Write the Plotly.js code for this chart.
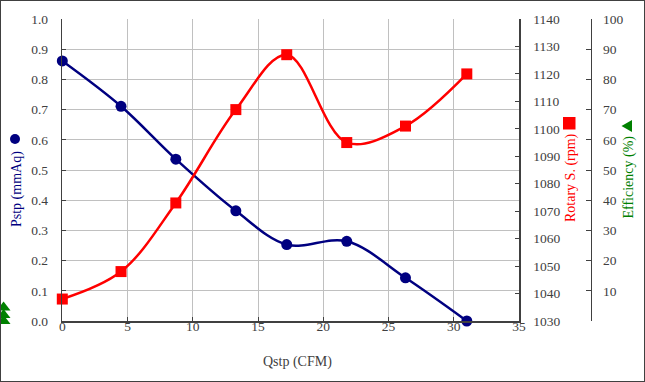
<!DOCTYPE html>
<html>
<head>
<meta charset="utf-8">
<script src="https://cdn.plot.ly/plotly-3.0.1.min.js"></script>
<style>
  html, body { margin: 0; padding: 0; background: #fff; }
  #chart { width: 645px; height: 382px; box-sizing: border-box; border: 1px solid #404040; }
</style>
</head>
<body>
<div id="chart"></div>
<script>
// ---- data ----
const qstp = [0, 4.5, 8.7, 13.3, 17.2, 21.8, 26.3, 31.0];
const pstp = [0.861, 0.711, 0.536, 0.365, 0.253, 0.264, 0.143, 0.0];
const rotary = [1038, 1048, 1073, 1107, 1127, 1095, 1101, 1120];
const effQ = [-4.5, -4.5, -4.5];
const efficiency = [4.5, 2, 0];
const xTicks = [0, 5, 10, 15, 20, 25, 30, 35];
const effTickVals = [0, 10, 20, 30, 40, 50, 60, 70, 80, 90, 100];
const effTickText = ['', '10', '20', '30', '40', '50', '60', '70', '80', '90', '100'];

// ---- layout geometry ----
const W = 643, H = 380;
const M = {l: 0, r: 0, t: 18, b: 60};
const PH = H - M.t - M.b;
const px = X => (X - 1) / W;                 // page x -> paper x
const py = Y => (H - M.b - (Y - 1)) / PH;    // page y -> paper y
const plotL = 62.3, plotR = 519;             // page x of plot box edges
const xDom = [px(plotL), px(plotR)];
const unitPx = (plotR - plotL) / 35;
// left-margin strip uses the same Qstp scale (for the efficiency marks sitting left of the axis)
const x2Dom = [0, xDom[0]];
const x2Range = [-(plotL - 1) / unitPx, 0];

const FONT = 'Liberation Serif';
const tickFont = {family: FONT, size: 13.5, color: '#404040'};
const NAVY = '#000080', RED = '#ff0000', GREEN = '#008000';
const axisLine = '#404040', grid = '#c0c0c0';

const traces = [
  {x: qstp, y: pstp, type: 'scatter', mode: 'lines+markers', name: 'Pstp',
   line: {color: NAVY, width: 2.5, shape: 'spline', smoothing: 1},
   marker: {symbol: 'circle', size: 11, color: NAVY},
   cliponaxis: false, xaxis: 'x', yaxis: 'y'},
  {x: qstp, y: rotary, type: 'scatter', mode: 'lines+markers', name: 'Rotary S.',
   line: {color: RED, width: 2.5, shape: 'spline', smoothing: 1},
   marker: {symbol: 'square', size: 11, color: RED},
   cliponaxis: false, xaxis: 'x', yaxis: 'y2'},
  {x: effQ, y: efficiency, type: 'scatter', mode: 'markers', name: 'Efficiency',
   marker: {symbol: 'triangle-up', size: 12, color: GREEN},
   cliponaxis: false, xaxis: 'x2', yaxis: 'y3'}
];

const layout = {
  width: W, height: H,
  margin: M,
  paper_bgcolor: 'rgba(0,0,0,0)', plot_bgcolor: 'rgba(0,0,0,0)',
  showlegend: false,
  font: {family: FONT},
  xaxis: {
    domain: xDom, range: [0, 35], tickvals: xTicks,
    showgrid: true, gridcolor: grid, gridwidth: 1,
    showline: true, linecolor: axisLine, linewidth: 1.5,
    ticks: 'inside', ticklen: 4, tickcolor: axisLine,
    zeroline: false, tickfont: tickFont, ticklabelstandoff: -8
  },
  xaxis2: {
    domain: x2Dom, range: x2Range, anchor: 'y3', visible: false,
    showgrid: false, zeroline: false, showline: false
  },
  yaxis: {
    range: [0, 1], dtick: 0.1, tickformat: '.1f',
    showgrid: true, gridcolor: grid, gridwidth: 1,
    showline: true, linecolor: axisLine, linewidth: 1.5,
    ticks: 'inside', ticklen: 4, tickcolor: axisLine,
    zeroline: false, tickfont: tickFont, ticklabelstandoff: 10
  },
  yaxis2: {
    overlaying: 'y', side: 'right', anchor: 'x',
    range: [1030, 1140], dtick: 10,
    showgrid: false, showline: true, linecolor: axisLine, linewidth: 1.5,
    ticks: 'inside', ticklen: 4, tickcolor: axisLine,
    zeroline: false, tickfont: tickFont, ticklabelstandoff: 10
  },
  yaxis3: {
    side: 'right', anchor: 'free', position: px(590.7),
    range: [0, 100], tickvals: effTickVals, ticktext: effTickText,
    showgrid: false, showline: true, linecolor: axisLine, linewidth: 1.5,
    ticks: 'inside', ticklen: 5, tickcolor: axisLine,
    zeroline: false, tickfont: tickFont, ticklabelstandoff: 8
  },
  annotations: [
    {text: 'Qstp (CFM)', xref: 'paper', yref: 'paper', x: px(297), y: py(362),
     xanchor: 'center', yanchor: 'middle', showarrow: false,
     font: {family: FONT, size: 14, color: '#404040'}},
    {text: 'Pstp (mmAq)', xref: 'paper', yref: 'paper', x: px(17.5), y: py(189.5),
     xanchor: 'center', yanchor: 'middle', showarrow: false, textangle: -90,
     font: {family: FONT, size: 14, color: NAVY}},
    {text: 'Rotary S. (rpm)', xref: 'paper', yref: 'paper', x: px(571), y: py(178),
     xanchor: 'center', yanchor: 'middle', showarrow: false, textangle: -90,
     font: {family: FONT, size: 14, color: RED}},
    {text: 'Efficiency (%)', xref: 'paper', yref: 'paper', x: px(628), y: py(177.5),
     xanchor: 'center', yanchor: 'middle', showarrow: false, textangle: -90,
     font: {family: FONT, size: 14, color: GREEN}}
  ],
  shapes: [
    {type: 'circle', xref: 'paper', yref: 'paper',
     x0: px(10), x1: px(20), y0: py(144), y1: py(134),
     fillcolor: NAVY, line: {width: 0}},
    {type: 'rect', xref: 'paper', yref: 'paper',
     x0: px(563), x1: px(575.5), y0: py(129.5), y1: py(117),
     fillcolor: RED, line: {width: 0}},
    {type: 'path', xref: 'paper', yref: 'paper',
     path: 'M ' + px(621.5) + ' ' + py(126) + ' L ' + px(632) + ' ' + py(120) +
           ' L ' + px(632) + ' ' + py(132) + ' Z',
     fillcolor: GREEN, line: {width: 0}}
  ]
};

Plotly.newPlot('chart', traces, layout, {displayModeBar: false, staticPlot: true});
</script>
</body>
</html>
